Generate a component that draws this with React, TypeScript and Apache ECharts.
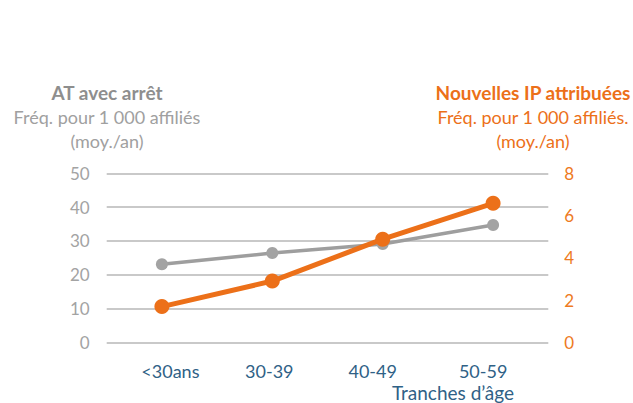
import React, { useEffect, useRef } from "react";
import * as echarts from "echarts";

const categories = ["<30ans", "30-39", "40-49", "50-59"];
const atAvecArret = [23.1, 26.4, 29.1, 34.7];
const nouvellesIP = [1.69, 2.9, 4.88, 6.58];
const leftTicks = { min: 0, max: 50, interval: 10 };
const rightTicks = { min: 0, max: 8, interval: 2 };
const leftTitle = ["AT avec arrêt", "Fréq. pour 1 000 affiliés", "(moy./an)"];
const rightTitle = ["Nouvelles IP attribuées", "Fréq. pour 1 000 affiliés.", "(moy./an)"];
const xAxisName = "Tranches d’âge";

// horizontal nudges of category labels (px)
const labelShift = [8.5, -3, -10, -10];

const FONT = "Lato, 'Noto Sans', sans-serif";
const GRAY = "#A3A3A3";
const ORANGE = "#EC7019";
const BLUE = "#2F6186";
const titleY = [92, 117, 141];

export default function App() {
  const ref = useRef<HTMLDivElement>(null);
  useEffect(() => {
    if (!ref.current) return;
    const chart = echarts.init(ref.current, undefined, { renderer: "svg" });
    const rich: Record<string, any> = {};
    labelShift.forEach((s, i) => {
      rich["l" + i] = {
        color: BLUE,
        fontSize: 18,
        fontFamily: FONT,
        padding: s >= 0 ? [0, 0, 0, 2 * s] : [0, -2 * s, 0, 0],
      };
    });
    chart.setOption({
      animation: false,
      textStyle: { fontFamily: FONT },
      grid: { left: 106.7, right: 84.7, top: 173.3, bottom: 60.7, containLabel: false },
      xAxis: {
        type: "category",
        data: categories,
        boundaryGap: true,
        axisLine: { show: false },
        axisTick: { show: false },
        axisLabel: {
          margin: 20,
          formatter: (v: string) => `{l${categories.indexOf(v)}|${v}}`,
          rich,
        },
      },
      yAxis: [
        {
          type: "value",
          ...leftTicks,
          axisLine: { show: false },
          axisTick: { show: false },
          axisLabel: { color: GRAY, fontSize: 17, fontFamily: FONT, margin: 17 },
          splitLine: { lineStyle: { color: "#C9C9C9", width: 2 } },
        },
        {
          type: "value",
          ...rightTicks,
          axisLine: { show: false },
          axisTick: { show: false },
          axisLabel: { color: "#EE7A22", fontSize: 17, fontFamily: FONT, margin: 16 },
          splitLine: { show: false },
        },
      ],
      series: [
        {
          type: "line",
          name: leftTitle[0],
          data: atAvecArret,
          yAxisIndex: 0,
          symbol: "circle",
          symbolSize: 12,
          lineStyle: { color: "#9E9E9E", width: 3.5 },
          itemStyle: { color: GRAY },
          z: 2,
        },
        {
          type: "line",
          name: rightTitle[0],
          data: nouvellesIP,
          yAxisIndex: 1,
          symbol: "circle",
          symbolSize: 15,
          lineStyle: { color: ORANGE, width: 5 },
          itemStyle: { color: ORANGE },
          z: 3,
        },
      ],
      graphic: [
        ...leftTitle.map((t, i) => ({
          type: "text",
          x: 107,
          y: titleY[i],
          style: {
            text: t,
            fill: i === 0 ? "#8E8E8E" : "#A0A0A0",
            font: `${i === 0 ? "bold 19px" : "18px"} ${FONT}`,
            align: "center",
            verticalAlign: "middle",
          },
        })),
        ...rightTitle.map((t, i) => ({
          type: "text",
          x: 533,
          y: titleY[i],
          style: {
            text: t,
            fill: ORANGE,
            font: `${i === 0 ? "bold 19px" : "18px"} ${FONT}`,
            align: "center",
            verticalAlign: "middle",
          },
        })),
        {
          type: "text",
          x: 453,
          y: 392,
          style: {
            text: xAxisName,
            fill: BLUE,
            font: `19px ${FONT}`,
            align: "center",
            verticalAlign: "middle",
          },
        },
      ],
    });
    return () => chart.dispose();
  }, []);
  return (
    <div
      ref={ref}
      style={{ position: "fixed", left: 0, top: 0, width: 633, height: 403, background: "#fff" }}
    />
  );
}
